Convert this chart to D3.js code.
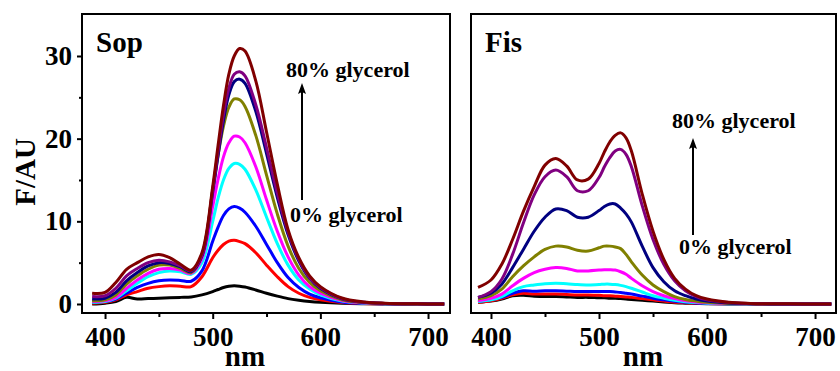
<!DOCTYPE html>
<html>
<head>
<meta charset="utf-8">
<script src="https://cdn.jsdelivr.net/npm/d3@7"></script>
<style>
  body { margin: 0; background: #fff; }
  svg { display: block; }
  text { font-family: "Liberation Serif", "Times New Roman", serif; font-weight: bold; fill: #000; }
</style>
</head>
<body>
<div id="chart"></div>
<script>
// emission wavelength grid (nm)
const wavelengths = [388,400,410,420,430,440,450,460,470,480,490,500,505,510,515,520,525,530,540,550,560,570,580,590,600,620,640,660,690,715];

// Sop, 0% -> 80% glycerol
const sop00 = [0.0,0.1,0.3,0.8,0.6,0.65,0.7,0.75,0.8,0.85,1.1,1.5,1.75,2.0,2.15,2.2,2.15,2.05,1.7,1.3,0.95,0.65,0.45,0.3,0.2,0.08,0.03,0.01,0,0];
const sop10 = [0.1,0.2,0.5,1.1,1.5,1.9,2.1,2.2,2.15,2.1,3.3,5.6,6.5,7.2,7.6,7.7,7.55,7.3,6.2,4.7,3.3,2.1,1.3,0.8,0.5,0.17,0.05,0.02,0,0];
const sop20 = [0.2,0.3,0.6,1.3,2.0,2.5,2.8,2.9,2.85,2.75,4.0,7.6,9.3,10.7,11.5,11.8,11.6,11.1,9.4,7.2,5.0,3.2,2.0,1.2,0.75,0.25,0.08,0.03,0,0];
const sop30 = [0.2,0.3,0.7,1.6,2.5,3.3,3.8,4.0,3.9,3.6,5.0,10.0,12.8,15.0,16.4,17.0,16.9,16.3,13.8,10.5,7.3,4.7,2.9,1.8,1.1,0.35,0.12,0.04,0.01,0];
const sop40 = [0.3,0.4,0.8,1.9,2.9,3.7,4.2,4.3,4.1,3.7,5.5,11.8,15.1,17.8,19.5,20.3,20.2,19.5,16.6,12.6,8.8,5.7,3.5,2.1,1.3,0.42,0.14,0.05,0.01,0];
const sop50 = [0.4,0.5,1.1,2.4,3.4,4.2,4.7,4.7,4.3,3.8,5.9,13.8,18.0,21.5,23.8,24.8,24.7,23.9,20.4,15.6,10.9,7.0,4.3,2.6,1.6,0.5,0.17,0.06,0.01,0];
const sop60 = [0.6,0.7,1.4,2.8,3.8,4.6,5.0,4.9,4.5,3.9,5.8,13.5,18.0,22.2,25.3,26.9,27.2,26.7,23.3,18.2,12.9,8.4,5.2,3.1,1.9,0.62,0.2,0.07,0.02,0];
const sop70 = [0.9,1.0,1.9,3.4,4.3,5.0,5.3,5.1,4.6,4.0,5.9,13.8,18.5,22.9,26.1,27.8,28.1,27.6,24.1,18.9,13.4,8.7,5.4,3.2,2.0,0.65,0.21,0.07,0.02,0];
const sop80 = [1.3,1.4,2.6,4.2,5.0,5.7,6.0,5.6,4.8,4.1,6.2,14.2,19.2,24.0,27.8,30.0,30.9,30.6,27.0,20.8,14.5,9.0,5.6,3.4,2.1,0.72,0.25,0.09,0.02,0];

// Fis, 0% -> 80% glycerol
const fis00 = [0.2,0.35,0.6,1.0,1.05,0.95,0.9,0.9,0.85,0.8,0.8,0.75,0.75,0.7,0.7,0.65,0.6,0.55,0.45,0.35,0.25,0.15,0.1,0.06,0.03,0.01,0,0,0,0];
const fis10 = [0.2,0.4,0.7,1.1,1.3,1.2,1.2,1.2,1.15,1.1,1.1,1.05,1.0,1.0,0.95,0.9,0.85,0.8,0.65,0.5,0.35,0.22,0.14,0.08,0.05,0.02,0.01,0,0,0];
const fis20 = [0.3,0.5,0.8,1.3,1.6,1.55,1.6,1.6,1.55,1.5,1.5,1.5,1.5,1.5,1.45,1.4,1.3,1.2,0.95,0.7,0.5,0.32,0.2,0.12,0.07,0.02,0.01,0,0,0];
const fis30 = [0.3,0.5,0.9,1.6,2.1,2.3,2.45,2.5,2.45,2.35,2.3,2.35,2.4,2.4,2.35,2.25,2.1,1.9,1.45,1.0,0.7,0.45,0.28,0.17,0.1,0.03,0.01,0,0,0];
const fis40 = [0.4,0.7,1.2,2.2,3.1,3.8,4.2,4.4,4.3,4.0,4.0,4.1,4.15,4.15,4.1,3.9,3.6,3.1,2.2,1.5,1.0,0.65,0.4,0.25,0.15,0.05,0.02,0,0,0];
const fis50 = [0.6,1.0,1.8,3.3,4.6,5.7,6.6,7.0,6.9,6.5,6.4,6.8,7.0,7.0,6.9,6.7,6.0,5.1,3.5,2.3,1.5,0.9,0.55,0.35,0.2,0.07,0.02,0,0,0];
const fis60 = [0.8,1.3,2.4,4.4,6.6,8.8,10.5,11.5,11.3,10.5,10.5,11.3,11.8,12.1,12.1,11.6,10.9,9.9,7.0,4.4,2.7,1.6,1.0,0.6,0.35,0.12,0.04,0.01,0,0];
const fis70 = [0.8,1.5,3.0,6.0,9.8,13.2,15.4,16.2,15.4,13.7,13.7,15.3,16.6,17.7,18.5,18.7,18.1,16.6,11.9,7.8,4.8,2.8,1.6,0.9,0.5,0.18,0.06,0.02,0,0];
const fis80 = [2.0,2.9,4.8,7.8,11.2,14.2,16.8,17.6,16.7,15.0,15.1,17.0,18.4,19.6,20.4,20.7,20.1,18.5,13.3,8.8,5.4,3.1,1.8,1.0,0.6,0.2,0.07,0.03,0.01,0];

const seriesColors = ["#000000","#ff0000","#0000ff","#00ffff","#ff00ff","#808000","#000080","#800080","#800000"];
const xTicks = [400,500,600,700];
const xMinorTicks = [450,550,650];
const yTicks = [0,10,20,30];
const yMinorTicks = [5,15,25];

const W = 840, H = 371;
const svg = d3.select("#chart").append("svg").attr("width", W).attr("height", H);

const panels = [
    {title: "Sop", series: [sop00,sop10,sop20,sop30,sop40,sop50,sop60,sop70,sop80],
     left: 82, right: 450, xDomain: [378.6, 720.4], showY: true,
     hi: [286, 77], lo: [290, 222], arrow: [302, 200, 83], nmX: 245},
    {title: "Fis", series: [fis00,fis10,fis20,fis30,fis40,fis50,fis60,fis70,fis80],
     left: 471, right: 836, xDomain: [381.5, 719.4], showY: false,
     hi: [672, 128], lo: [679, 254], arrow: [693, 235, 138], nmX: 643}
];
const plotTop = 14, plotBottom = 313;

panels.forEach(p => {
    const x = d3.scaleLinear().domain(p.xDomain).range([p.left, p.right]);
    const y = d3.scaleLinear().domain([-1.09, 35.08]).range([plotBottom, plotTop]);

    const line = d3.line()
        .x((d, i) => x(wavelengths[i]))
        .y(d => y(d))
        .curve(d3.curveCatmullRom);

    svg.append("g")
        .attr("fill", "none")
        .attr("stroke-width", 3)
        .attr("stroke-linejoin", "round")
        .selectAll("path")
        .data(p.series)
        .join("path")
        .attr("stroke", (d, i) => seriesColors[i])
        .attr("d", line);

    // x axis, major + minor
    const gx = svg.append("g")
        .attr("transform", `translate(0,${plotBottom})`)
        .call(d3.axisBottom(x).tickValues(xTicks).tickSize(6).tickPadding(8).tickSizeOuter(0));
    gx.select(".domain").remove();
    gx.selectAll("line").attr("stroke-width", 2);
    gx.selectAll("text").style("font-size", "27px");

    const gxm = svg.append("g")
        .attr("transform", `translate(0,${plotBottom})`)
        .call(d3.axisBottom(x).tickValues(xMinorTicks).tickSize(4).tickFormat(""));
    gxm.select(".domain").remove();
    gxm.selectAll("line").attr("stroke-width", 2);

    if (p.showY) {
        const gy = svg.append("g")
            .attr("transform", `translate(${p.left},0)`)
            .call(d3.axisLeft(y).tickValues(yTicks).tickSize(5).tickPadding(5).tickSizeOuter(0));
        gy.select(".domain").remove();
        gy.selectAll("line").attr("stroke-width", 2);
        gy.selectAll("text").style("font-size", "27px");

        const gym = svg.append("g")
            .attr("transform", `translate(${p.left},0)`)
            .call(d3.axisLeft(y).tickValues(yMinorTicks).tickSize(3).tickFormat(""));
        gym.select(".domain").remove();
        gym.selectAll("line").attr("stroke-width", 2);

        svg.append("text")
            .attr("transform", "translate(35,172) rotate(-90)")
            .attr("text-anchor", "middle")
            .style("font-size", "29px")
            .text("F/AU");
    }

    // frame
    svg.append("rect")
        .attr("x", p.left).attr("y", plotTop)
        .attr("width", p.right - p.left).attr("height", plotBottom - plotTop)
        .attr("fill", "none").attr("stroke", "#000").attr("stroke-width", 2);

    svg.append("text")
        .attr("x", p.left + 14).attr("y", 52)
        .style("font-size", "29px")
        .text(p.title);

    svg.append("text")
        .attr("x", p.nmX).attr("y", 366)
        .attr("text-anchor", "middle")
        .style("font-size", "29px")
        .text("nm");

    svg.append("text").attr("x", p.hi[0]).attr("y", p.hi[1])
        .style("font-size", "22px").text("80% glycerol");
    svg.append("text").attr("x", p.lo[0]).attr("y", p.lo[1])
        .style("font-size", "22px").text("0% glycerol");

    const [ax, ay0, ay1] = p.arrow;
    svg.append("line")
        .attr("x1", ax).attr("x2", ax).attr("y1", ay0).attr("y2", ay1 + 8)
        .attr("stroke", "#000").attr("stroke-width", 2);
    svg.append("path")
        .attr("d", `M${ax},${ay1} L${ax - 4},${ay1 + 11} L${ax},${ay1 + 9} L${ax + 4},${ay1 + 11} Z`)
        .attr("fill", "#000");
});
</script>
</body>
</html>
